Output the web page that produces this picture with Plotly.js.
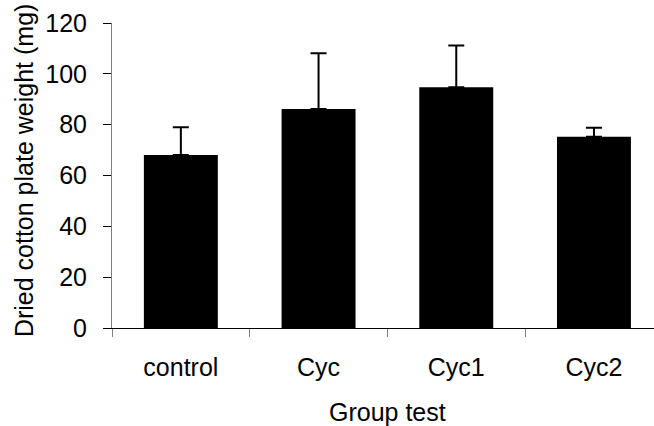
<!DOCTYPE html>
<html>
<head>
<meta charset="utf-8">
<script src="https://cdn.plot.ly/plotly-3.0.1.min.js"></script>
<style>html,body{margin:0;padding:0;background:#fff;}#chart{width:654px;height:426px;}</style>
</head>
<body>
<div id="chart"></div>
<script>
var categories = ["control", "Cyc", "Cyc1", "Cyc2"];
var weights = [68.1, 86.2, 94.7, 75.2];
var errorsUp = [10.9, 21.9, 16.4, 3.6];
var errorsDown = [0, 0, 0, 0];
var yTicks = [0, 20, 40, 60, 80, 100, 120];

var FONT = "Liberation Sans, Arial, sans-serif";

var trace = {
  type: "bar",
  x: categories,
  y: weights,
  marker: {color: "#000000", line: {width: 0}},
  error_y: {
    type: "data",
    symmetric: false,
    array: errorsUp,
    arrayminus: errorsDown,
    color: "#000000",
    thickness: 2,
    width: 8
  },
  hoverinfo: "none"
};

var layout = {
  width: 654,
  height: 426,
  margin: {l: 112, r: 0, t: 23, b: 98, pad: 0},
  paper_bgcolor: "#ffffff",
  plot_bgcolor: "#ffffff",
  showlegend: false,
  bargap: 0.463,
  font: {family: FONT, color: "#000000", size: 24},
  xaxis: {
    type: "category",
    range: [-0.5, 3.436],
    showline: true,
    linecolor: "#000000",
    linewidth: 1,
    ticks: "outside",
    tickson: "boundaries",
    ticklen: 8,
    tickcolor: "#808080",
    tickwidth: 1,
    ticklabelstandoff: 17,
    showgrid: false,
    zeroline: false,
    tickfont: {family: FONT, size: 25, color: "#000000"}
  },
  yaxis: {
    range: [0, 120],
    tickvals: yTicks,
    ticktext: yTicks.map(String),
    showline: true,
    linecolor: "#808080",
    linewidth: 1,
    ticks: "outside",
    ticklen: 8,
    tickcolor: "#000000",
    tickwidth: 1,
    ticklabelstandoff: 11,
    showgrid: false,
    zeroline: false,
    tickfont: {family: FONT, size: 25, color: "#000000"}
  },
  annotations: [
    {
      text: "Group test",
      xref: "paper", yref: "paper",
      x: 0.509, y: -0.275,
      xanchor: "center", yanchor: "middle",
      showarrow: false,
      font: {family: FONT, size: 25, color: "#000000"}
    },
    {
      text: "Dried cotton plate weight (mg)",
      xref: "paper", yref: "paper",
      x: -0.162, y: 0.515,
      xanchor: "center", yanchor: "middle",
      textangle: -90,
      showarrow: false,
      font: {family: FONT, size: 25, color: "#000000"}
    }
  ]
};

Plotly.newPlot("chart", [trace], layout, {staticPlot: true, displayModeBar: false});
</script>
</body>
</html>
